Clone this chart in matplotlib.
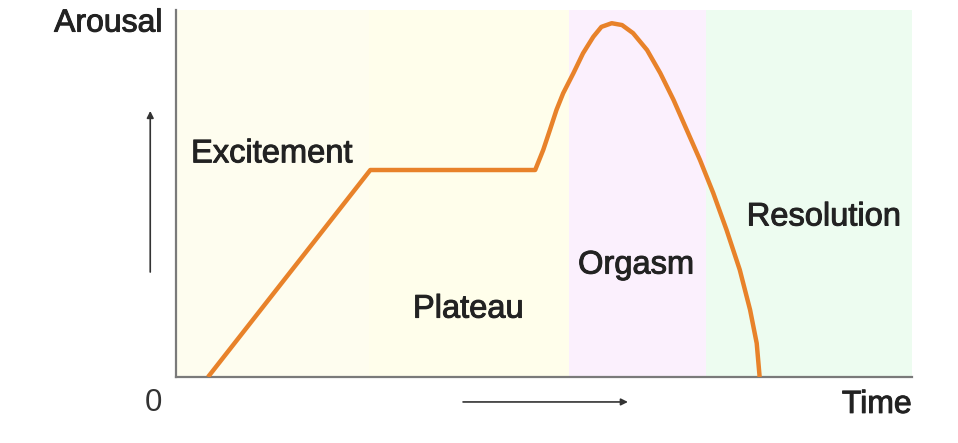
import matplotlib
matplotlib.use("Agg")
import matplotlib.pyplot as plt
import matplotlib.patheffects as pe

# Phase bands (x in arbitrary time units 0..100)
phases = ["Excitement", "Plateau", "Orgasm", "Resolution"]
phase_start = [0.0, 26.2, 53.4, 72.0]
phase_end = [26.2, 53.4, 72.0, 100.0]
phase_colors = ["#fefdef", "#fffeeb", "#fbf0fd", "#edfcf0"]

# Arousal curve
curve_x = [4.35, 26.4, 48.8, 49.9, 50.8, 51.7, 52.6, 54.0, 55.3, 56.7, 57.8,
           59.2, 60.6, 62.1, 64.0, 65.8, 67.6, 69.4, 71.2, 73.0, 74.8, 76.6,
           78.0, 78.9, 79.3]
curve_y = [0.0, 56.4, 56.4, 61.9, 67.3, 72.8, 77.3, 82.8, 88.2, 92.7, 95.4,
           96.4, 95.9, 93.7, 89.1, 82.8, 75.5, 67.3, 59.1, 50.1, 40.1, 29.2,
           18.3, 9.2, 0.0]

# Label positions (data coords)
label_x = [13.0, 39.7, 62.5, 88.0]
label_y = [60.8, 18.5, 30.5, 43.6]

FONT = "Liberation Sans"
FS = 23.5
heavy = [pe.withStroke(linewidth=0.7, foreground="#222222")]

fig = plt.figure(figsize=(9.58, 4.43), dpi=100)
ax = fig.add_axes([176/958, 66/443, 736/958, 367/443])
ax.set_xlim(0, 100)
ax.set_ylim(0, 100)

for s, e, c in zip(phase_start, phase_end, phase_colors):
    ax.axvspan(s, e, color=c, lw=0, zorder=0)

ax.plot(curve_x, curve_y, color="#e8822a", lw=3.2, solid_joinstyle="round",
        solid_capstyle="butt", zorder=3)

for name, lx, ly in zip(phases, label_x, label_y):
    ax.text(lx, ly, name, ha="center", va="center", fontsize=FS,
            family=FONT, color="#222222", zorder=4, path_effects=heavy)

for sp in ["top", "right"]:
    ax.spines[sp].set_visible(False)
for sp in ["left", "bottom"]:
    ax.spines[sp].set_color("#7a7a7a")
    ax.spines[sp].set_linewidth(1.6)
ax.set_xticks([])
ax.set_yticks([])

# Axis annotations
ax.text(-1.8, 96.3, "Arousal", ha="right", va="center", fontsize=FS - 0.5,
        family=FONT, color="#222222", clip_on=False, path_effects=heavy)
ax.text(100.0, -7.6, "Time", ha="right", va="center", fontsize=FS - 0.5,
        family=FONT, color="#222222", clip_on=False, path_effects=heavy)
ax.text(-3.0, -7.0, "0", ha="center", va="center", fontsize=FS - 1,
        family=FONT, color="#333333", clip_on=False)

ax.annotate("", xy=(-3.5, 72.5), xytext=(-3.5, 28.6), xycoords="data",
            arrowprops=dict(arrowstyle="-|>", color="#333333", lw=1.2,
                            mutation_scale=10, shrinkA=0, shrinkB=0),
            annotation_clip=False)
ax.annotate("", xy=(61.4, -6.8), xytext=(39.0, -6.8), xycoords="data",
            arrowprops=dict(arrowstyle="-|>", color="#333333", lw=1.2,
                            mutation_scale=10, shrinkA=0, shrinkB=0),
            annotation_clip=False)

fig.savefig("out.png", dpi=100, facecolor="white")
